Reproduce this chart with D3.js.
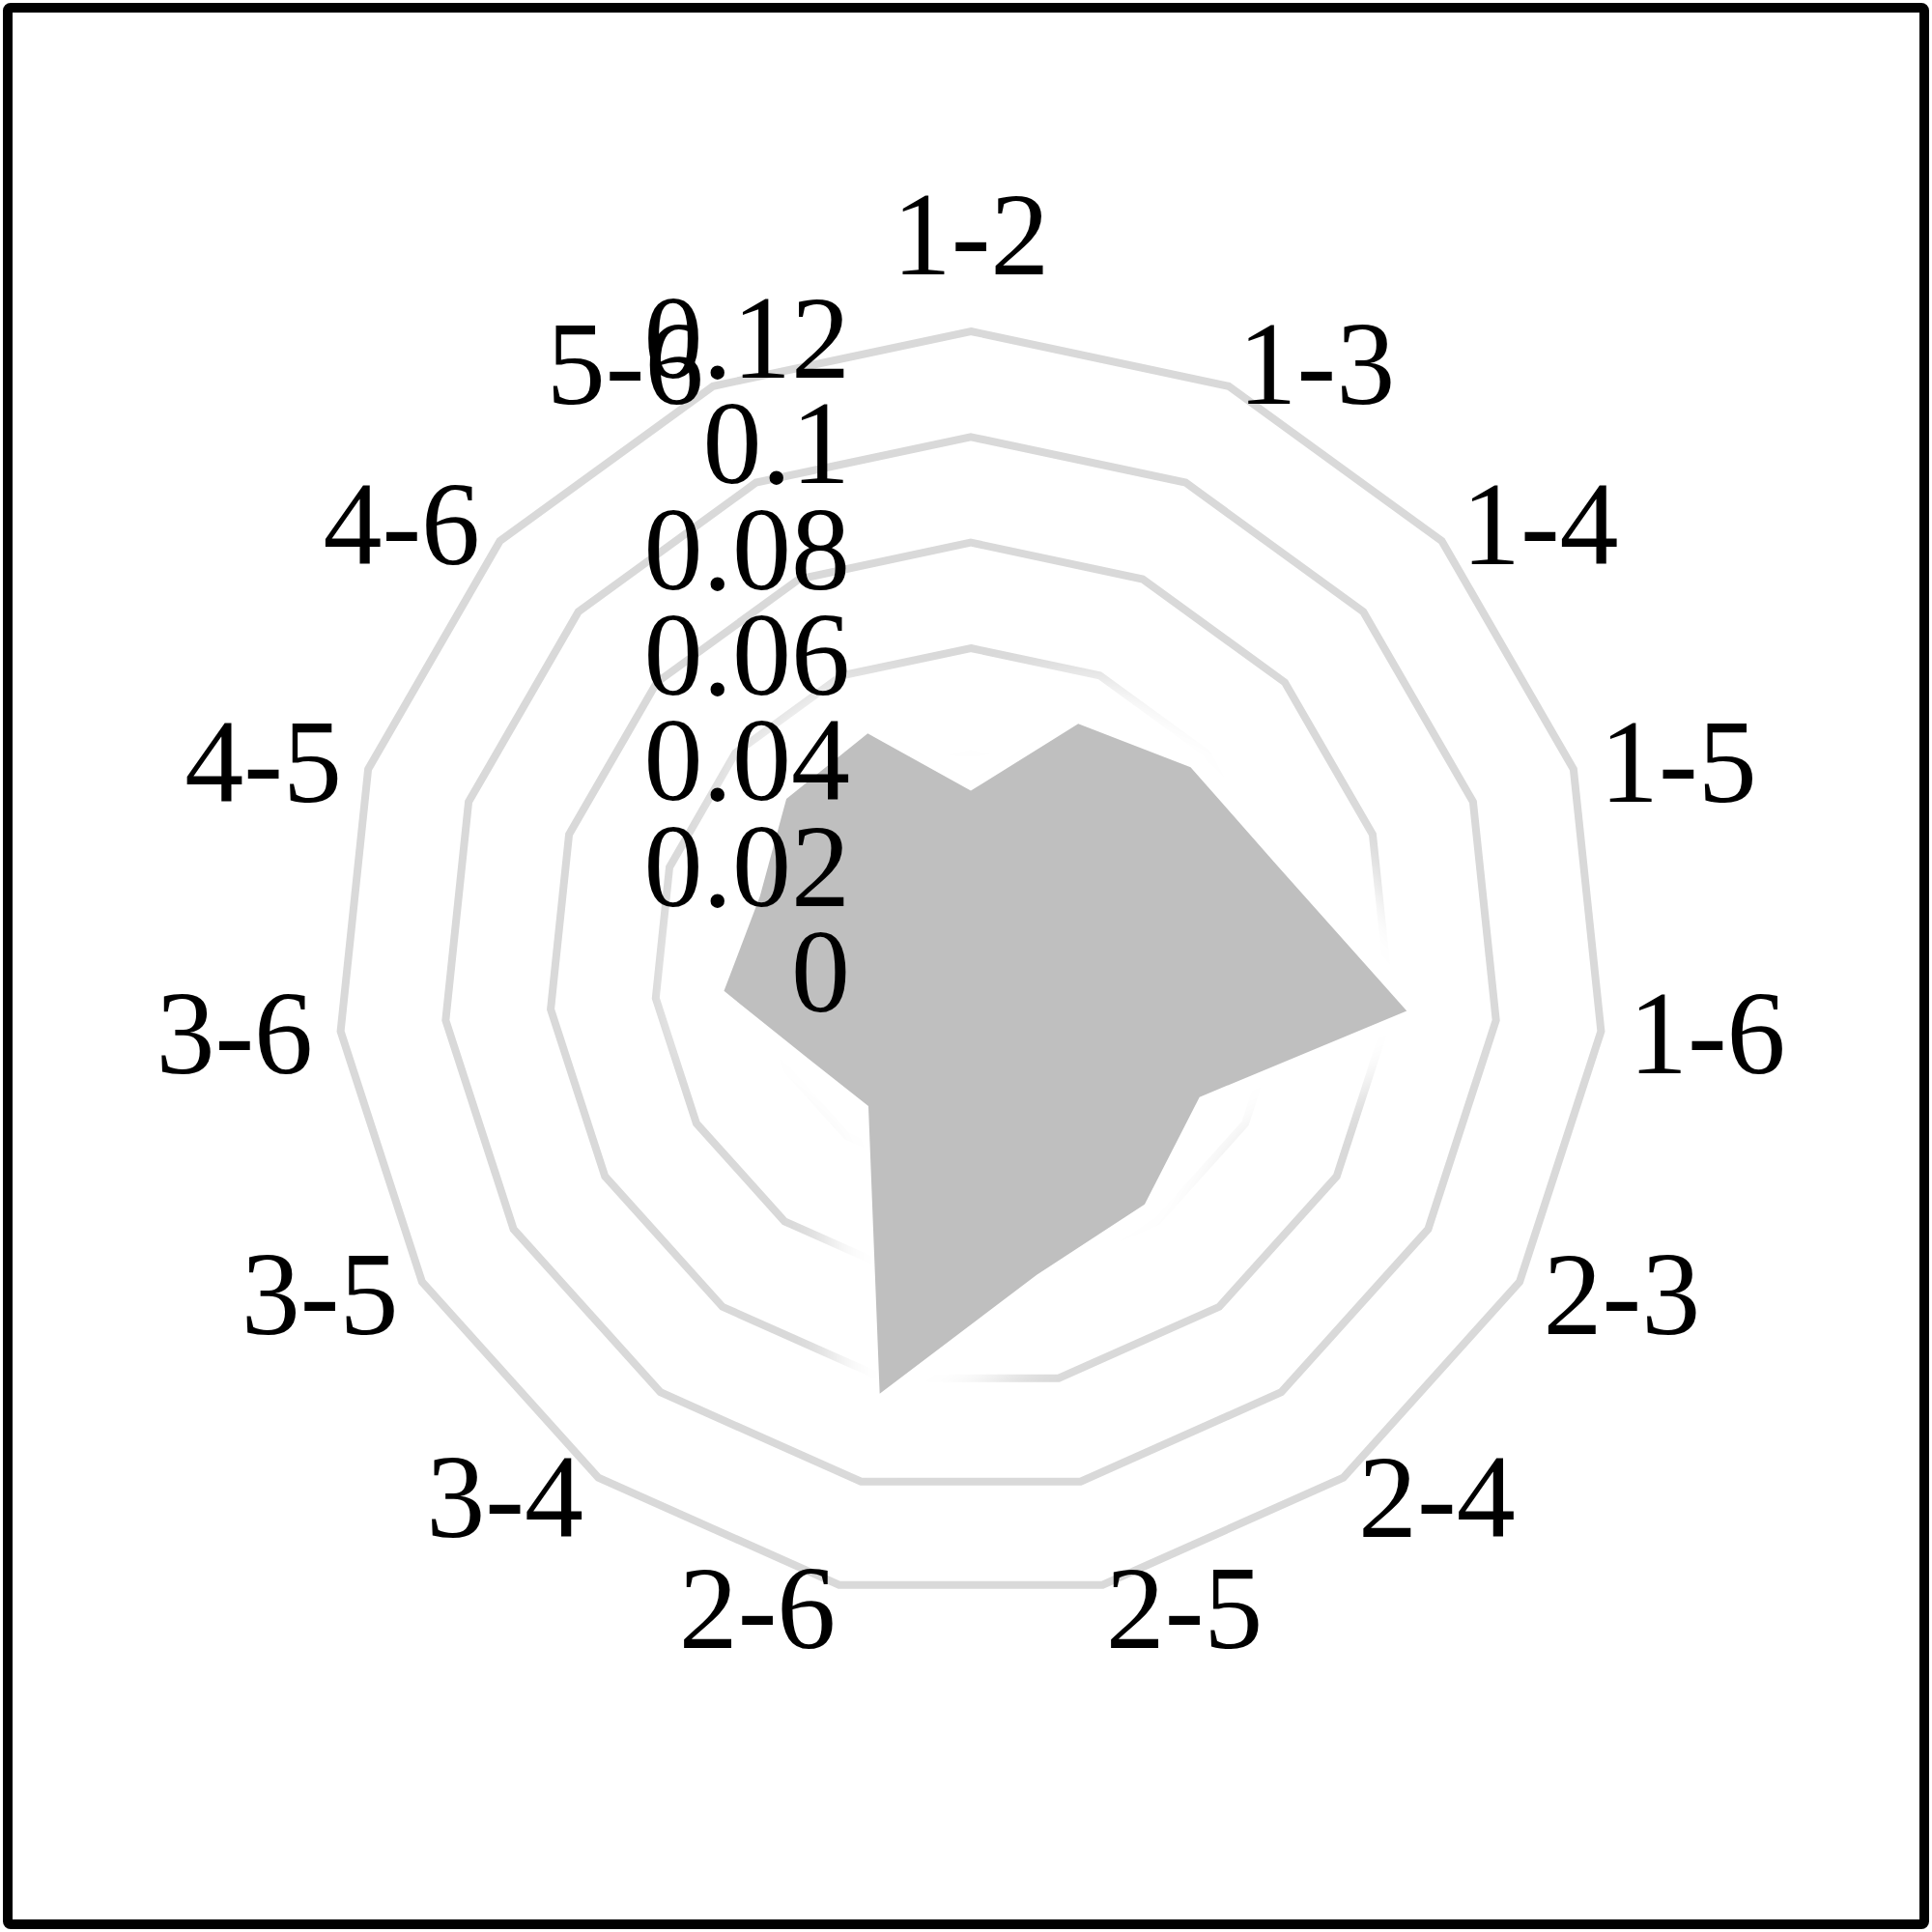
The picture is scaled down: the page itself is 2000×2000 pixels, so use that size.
<!DOCTYPE html>
<html>
<head>
<meta charset="utf-8">
<script src="https://cdn.jsdelivr.net/npm/d3@7"></script>
<style>
  body { margin: 0; background: #fff; }
  svg text { font-family: "Liberation Serif", "Times New Roman", serif; }
</style>
</head>
<body>
<div id="chart"></div>
<script>
// Radar chart data
const categories = ["1-2", "1-3", "1-4", "1-5", "1-6", "2-3", "2-4", "2-5",
                    "2-6", "3-4", "3-5", "3-6", "4-5", "4-6", "5-6"];
const values = [0.033, 0.050, 0.056, 0.061, 0.083, 0.050, 0.056, 0.060,
                0.083, 0.033, 0.0355, 0.047, 0.042, 0.047, 0.048];
const tickValues = [0, 0.02, 0.04, 0.06, 0.08, 0.1, 0.12];

// Dimensions
const width = 2000;
const height = 2000;
const cx = 1005, cy = 999;
const fontSize = 122;

const svg = d3.select("#chart")
    .append("svg")
    .attr("width", width)
    .attr("height", height);

// Outer frame
svg.append("rect")
    .attr("x", 8).attr("y", 8)
    .attr("width", width - 16).attr("height", height - 16)
    .attr("rx", 3)
    .attr("fill", "#fff")
    .attr("stroke", "#000")
    .attr("stroke-width", 10);

// White glow filter for the area
const defs = svg.append("defs");
const glow = defs.append("filter")
    .attr("id", "glow")
    .attr("x", "-30%").attr("y", "-30%")
    .attr("width", "160%").attr("height", "160%");
glow.append("feMorphology").attr("in", "SourceAlpha")
    .attr("operator", "dilate").attr("radius", 45).attr("result", "dil");
glow.append("feGaussianBlur").attr("in", "dil")
    .attr("stdDeviation", 22).attr("result", "blur");
glow.append("feFlood").attr("flood-color", "#fff").attr("result", "white");
glow.append("feComposite").attr("in", "white").attr("in2", "blur")
    .attr("operator", "in");

// Scales
const rScale = d3.scaleLinear()
    .domain([0, 0.12])
    .range([0, 656]);

const angle = d3.scalePoint()
    .domain(categories)
    .range([0, 2 * Math.PI * (categories.length - 1) / categories.length]);

const g = svg.append("g")
    .attr("transform", `translate(${cx},${cy})`);

const radial = d3.lineRadial()
    .angle(d => angle(d.cat))
    .radius(d => rScale(d.v))
    .curve(d3.curveLinearClosed);

// Grid rings
g.selectAll(".ring")
    .data(tickValues.filter(t => t > 0))
    .join("path")
    .attr("class", "ring")
    .attr("d", t => radial(categories.map(c => ({ cat: c, v: t }))))
    .attr("fill", "none")
    .attr("stroke", "#d9d9d9")
    .attr("stroke-width", 8)
    .attr("stroke-linejoin", "miter");

// Data area
const areaData = categories.map((c, i) => ({ cat: c, v: values[i] }));

g.append("path")
    .attr("d", radial(areaData))
    .attr("fill", "#fff")
    .attr("filter", "url(#glow)");

g.append("path")
    .attr("d", radial(areaData))
    .attr("fill", "#bfbfbf");

// Category labels
const R = rScale(0.12);
g.selectAll(".cat")
    .data(categories)
    .join("text")
    .attr("class", "cat")
    .attr("text-anchor", "middle")
    .attr("font-size", fontSize)
    .attr("fill", "#000")
    .attr("x", c => {
        const s = Math.sin(angle(c));
        if (Math.abs(s) < 1e-6) return 0;
        return R * s + Math.sign(s) * (78 + 32 * Math.abs(s));
    })
    .attr("y", c => {
        const co = Math.cos(angle(c));
        const s = Math.sin(angle(c));
        const mid = Math.abs(s) < 1e-6 ? -(R + 100) * co : -(R + 25) * co;
        return mid + 41;
    })
    .text(c => c);

// Value axis labels
g.selectAll(".tick")
    .data(tickValues)
    .join("text")
    .attr("class", "tick")
    .attr("text-anchor", "end")
    .attr("font-size", fontSize)
    .attr("fill", "#000")
    .attr("x", -125)
    .attr("y", t => -rScale(t) + 48)
    .text(t => t === 0 ? "0" : String(+t.toFixed(2)));
</script>
</body>
</html>
